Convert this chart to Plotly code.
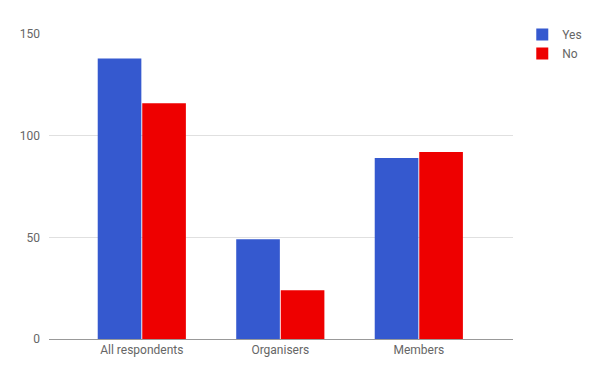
import plotly.graph_objects as go

categories = ["All respondents", "Organisers", "Members"]
yes_values = [138, 49, 89]
no_values = [116, 24, 92]
y_ticks = [0, 50, 100, 150]

fig = go.Figure()
fig.add_trace(go.Bar(name="Yes", x=categories, y=yes_values,
                     marker=dict(color="#3559CF", line=dict(width=0))))
fig.add_trace(go.Bar(name="No", x=categories, y=no_values,
                     marker=dict(color="#EE0000", line=dict(width=0))))

fig.update_layout(
    width=592, height=369,
    margin=dict(l=36, r=87, t=25, b=38),
    paper_bgcolor="white", plot_bgcolor="white",
    barmode="group", bargap=0.357, bargroupgap=0.02,
    font=dict(family="Roboto, Arial, sans-serif", size=12, color="#666666"),
    showlegend=True,
    legend=dict(x=1.02, y=1.046, xanchor="left", yanchor="top",
                font=dict(size=12, color="#666666"),
                itemsizing="constant", tracegroupgap=0),
    xaxis=dict(range=[-0.67, 2.68], showgrid=False, showline=True,
               linecolor="#999999", linewidth=1, ticks="",
               tickfont=dict(size=12, color="#666666")),
    yaxis=dict(range=[0, 150], tickvals=y_ticks, showgrid=True,
               gridcolor="#E0E0E0", zeroline=True, zerolinecolor="#999999",
               zerolinewidth=1, ticks="", ticklabelstandoff=8,
               tickfont=dict(size=12, color="#666666")),
)

fig.write_html("out.html")
